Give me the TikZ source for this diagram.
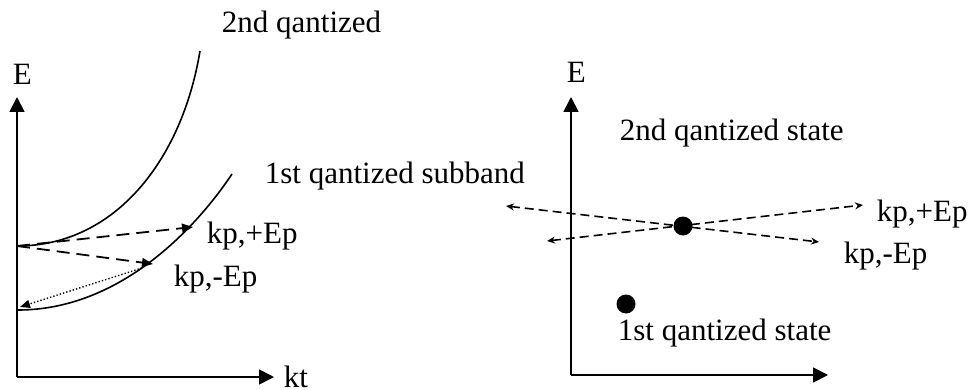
\documentclass[tikz,border=0pt]{standalone}
\usepackage{fontspec}
\setmainfont{Liberation Serif}
\usetikzlibrary{arrows.meta}
\begin{document}
\begin{tikzpicture}[x=1pt,y=-1pt,line width=1.8pt,
  axis/.style={-{Triangle[length=15pt,width=15pt]}},
  lbl/.style={anchor=base west,inner sep=0pt,font=\fontsize{31}{37}\selectfont},
  curve/.style={line width=1.6pt},
  ldash/.style={dash pattern=on 13pt off 7pt,-{Triangle[length=11pt,width=9pt]}},
  sdash/.style={line width=1.6pt,dash pattern=on 9pt off 5pt,{Stealth[length=8pt,width=7pt]}-{Stealth[length=8pt,width=7pt]}},
  dotline/.style={line width=1.4pt,dash pattern=on 1.4pt off 2pt,-{Triangle[length=10pt,width=8pt]}},
  state/.style={circle,fill=black,inner sep=0pt,minimum size=19pt}]
\useasboundingbox (0,0) rectangle (971,390);

% ---- left panel: dispersion curves ----
\coordinate (Lo) at (17,377);
\coordinate (LyTip) at (17,97);
\coordinate (LxTip) at (274,377);
\draw[axis] (Lo) -- (LyTip);
\draw[axis] (Lo) -- (LxTip);
\node[lbl] (LE) at (12,85) {E};
\node[lbl] (kt) at (283,387) {kt};

% second subband
\coordinate (S2) at (17,246);
\coordinate (S2end) at (200,51);
\draw[curve] (S2) .. controls (115,246) and (182,160) .. (S2end);
% first subband
\coordinate (S1) at (18,310);
\coordinate (S1end) at (232,174);
\draw[curve] (S1) .. controls (120,310) and (196,228) .. (S1end);

\coordinate (kpP) at (193,227);
\coordinate (kpM) at (153,264);
\coordinate (relax) at (142,268);
\coordinate (bottom1) at (20,307);
\draw[ldash] (S2) -- (kpP);
\draw[ldash] (S2) -- (kpM);
\draw[dotline] (relax) -- (bottom1);

\node[lbl] (l2nd) at (221,33) {2nd qantized};
\node[lbl] (l1st) at (264,183) {1st qantized subband};
\node[lbl] (lkpP) at (206,243) {kp,+Ep};
\node[lbl] (lkpM) at (173,286) {kp,-Ep};

% ---- right panel: quantized states ----
\coordinate (Ro) at (571,375);
\coordinate (RyTip) at (571,97);
\coordinate (RxTip) at (828,375);
\draw[axis] (Ro) -- (RyTip);
\draw[axis] (Ro) -- (RxTip);
\node[lbl] (RE) at (566,83) {E};

\coordinate (aL) at (506,206);
\coordinate (aR) at (819,242);
\coordinate (bL) at (547,241);
\coordinate (bR) at (863,205);
\draw[sdash] (aL) -- (aR);
\draw[sdash] (bL) -- (bR);
\node[state] (s2) at (683,226) {};
\node[state] (s1) at (626,304) {};

\node[lbl] (r2nd) at (619,141) {2nd qantized state};
\node[lbl] (rkpP) at (876,222) {kp,+Ep};
\node[lbl] (rkpM) at (843,263) {kp,-Ep};
\node[lbl] (r1st) at (617,340) {1st qantized state};
\end{tikzpicture}
\end{document}
